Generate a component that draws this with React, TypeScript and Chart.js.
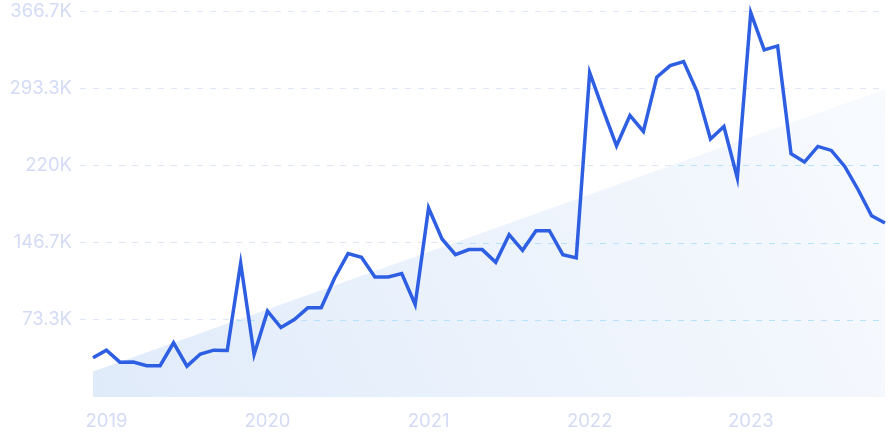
import React, { useEffect, useRef } from "react";
import { Chart, registerables } from "chart.js";

Chart.register(...registerables);

const categories: string[] = [
  "2018-12",
  "2019-01", "2019-02", "2019-03", "2019-04", "2019-05", "2019-06", "2019-07", "2019-08", "2019-09", "2019-10", "2019-11", "2019-12",
  "2020-01", "2020-02", "2020-03", "2020-04", "2020-05", "2020-06", "2020-07", "2020-08", "2020-09", "2020-10", "2020-11", "2020-12",
  "2021-01", "2021-02", "2021-03", "2021-04", "2021-05", "2021-06", "2021-07", "2021-08", "2021-09", "2021-10", "2021-11", "2021-12",
  "2022-01", "2022-02", "2022-03", "2022-04", "2022-05", "2022-06", "2022-07", "2022-08", "2022-09", "2022-10", "2022-11", "2022-12",
  "2023-01", "2023-02", "2023-03", "2023-04", "2023-05", "2023-06", "2023-07", "2023-08", "2023-09", "2023-10", "2023-11",
];

// values in thousands
const searchValues: number[] = [
  37.3, 44.5, 33.1, 33.3, 29.7, 29.7, 51.5, 29.3, 40.8, 44.5, 44.2, 127.0,
  40.4, 81.5, 66.0, 73.6, 84.7, 84.7, 113.1, 136.2, 132.7, 114.1, 114.1, 117.2,
  87.8, 179.5, 150.1, 135.2, 140.0, 140.0, 127.9, 154.2, 139.3, 158.0, 158.0, 135.2,
  132.1, 308.1, 272.8, 238.6, 267.4, 252.2, 303.8, 314.8, 318.6, 290.1, 245.0, 256.9,
  208.0, 365.0, 329.7, 333.5, 231.0, 223.2, 238.0, 234.2, 219.0, 196.9, 172.2, 165.3,
];

const trendStart = 24.3;
const trendEnd = 292.4;

const yMax = 366.66;
const yStep = 73.332;

const LABEL_COLOR = "#d3dbf5";
const GRID_COLOR = "#dfe6f8";
const GRID_IN_FILL = "#b6e2fc";
const LINE_COLOR = "#2e5fe3";
const DASH = [6, 7];
const FONT_SIZE = 18.5;

const formatK = (v: number) => {
  let s = v.toFixed(1);
  if (s.endsWith(".0")) s = s.slice(0, -2);
  return s + "K";
};

const gridOverlay = {
  id: "gridOverlay",
  afterDatasetDraw(chart: any, args: any) {
    if (args.index !== 1) return;
    const meta = chart.getDatasetMeta(1);
    const pts = meta.data;
    if (!pts || pts.length < 2) return;
    const yScale = chart.scales.y;
    const area = chart.chartArea;
    const ctx = chart.ctx;
    const base = yScale.getPixelForValue(0);
    ctx.save();
    ctx.beginPath();
    ctx.moveTo(pts[0].x, base);
    for (const p of pts) ctx.lineTo(p.x, p.y);
    ctx.lineTo(pts[pts.length - 1].x, base);
    ctx.closePath();
    ctx.clip();
    ctx.strokeStyle = GRID_IN_FILL;
    ctx.lineWidth = 1;
    ctx.setLineDash(DASH);
    for (const t of yScale.ticks) {
      if (t.value === 0) continue;
      const y = Math.round(yScale.getPixelForValue(t.value)) + 0.5;
      ctx.beginPath();
      ctx.moveTo(area.left, y);
      ctx.lineTo(area.right, y);
      ctx.stroke();
    }
    ctx.restore();
  },
};

export default function App() {
  const canvasRef = useRef<HTMLCanvasElement | null>(null);

  useEffect(() => {
    document.body.style.margin = "0";
    const canvas = canvasRef.current;
    if (!canvas) return;
    const chart = new Chart(canvas, {
      type: "line",
      data: {
        labels: categories,
        datasets: [
          {
            label: "Searches",
            data: searchValues,
            borderColor: LINE_COLOR,
            borderWidth: 3.5,
            pointRadius: 0,
            tension: 0,
            fill: false,
            clip: false as any,
          },
          {
            label: "Trend",
            data: [
              { x: categories[0], y: trendStart },
              { x: categories[categories.length - 1], y: trendEnd },
            ] as any,
            borderWidth: 0,
            borderColor: "rgba(0,0,0,0)",
            pointRadius: 0,
            fill: "origin",
            backgroundColor: (ctx: any) => {
              const area = ctx.chart.chartArea;
              if (!area) return "#e8f0fb";
              const g = ctx.chart.ctx.createLinearGradient(area.left, area.bottom, area.right, area.top);
              g.addColorStop(0, "#e0ebfa");
              g.addColorStop(1, "#f9fbfe");
              return g;
            },
          },
        ],
      },
      options: {
        animation: false,
        responsive: false,
        maintainAspectRatio: false,
        layout: { padding: { top: 11, right: 3, left: 0, bottom: 0 } },
        plugins: {
          legend: { display: false },
          tooltip: { enabled: false },
        },
        scales: {
          x: {
            grid: { display: false, drawTicks: false },
            border: { display: false },
            ticks: {
              autoSkip: false,
              maxRotation: 0,
              padding: 13,
              color: LABEL_COLOR,
              font: { family: "Inter", size: FONT_SIZE },
              callback: function (_v: any, i: number) {
                const c = categories[i];
                return c.endsWith("-01") ? c.slice(0, 4) : "";
              },
            },
            afterFit: (scale: any) => {
              scale.height = 46;
              scale.paddingLeft = 0;
              scale.paddingRight = 0;
            },
          },
          y: {
            min: 0,
            max: yMax,
            border: { display: false, dash: DASH },
            grid: {
              color: (ctx: any) => (ctx.tick && ctx.tick.value === 0 ? "rgba(0,0,0,0)" : GRID_COLOR),
              lineWidth: 1,
              tickLength: 13,
              tickBorderDash: DASH,
            } as any,
            ticks: {
              stepSize: yStep,
              padding: 8,
              color: LABEL_COLOR,
              font: { family: "Inter", size: FONT_SIZE },
              callback: (v: any) => (Number(v) === 0 ? "" : formatK(Number(v))),
            },
            afterFit: (scale: any) => {
              scale.width = 93;
              scale.paddingTop = 0;
              scale.paddingBottom = 0;
            },
          },
        },
      } as any,
      plugins: [gridOverlay],
    });
    (chart.options.scales as any).y.grid.borderDash = DASH;
    chart.update();
    return () => chart.destroy();
  }, []);

  return (
    <div style={{ position: "fixed", left: 0, top: 0, width: 888, height: 443 }}>
      <canvas ref={canvasRef} width={888} height={443} style={{ width: 888, height: 443 }} />
    </div>
  );
}
